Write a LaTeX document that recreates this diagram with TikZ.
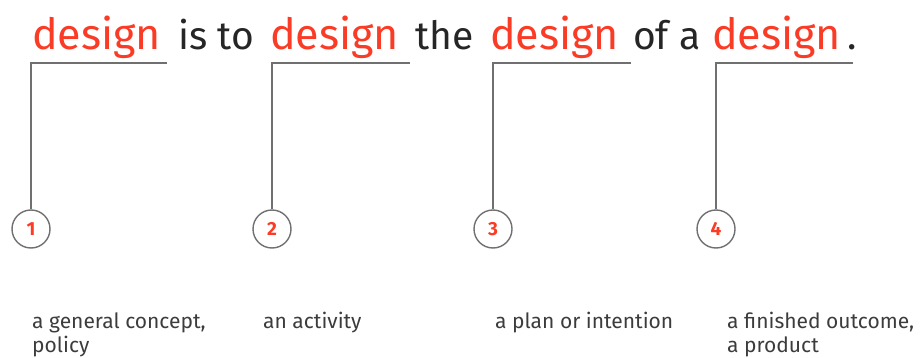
\documentclass[tikz,border=0pt]{standalone}
\usepackage{fontspec}
\setmainfont{Fira Sans}
\definecolor{dred}{RGB}{250,60,38}
\definecolor{lgray}{RGB}{112,112,112}
\definecolor{tgray}{RGB}{60,60,60}
\begin{document}
\begin{tikzpicture}[x=1pt,y=-1pt,
  word/.style={anchor=base west,inner sep=0pt},
  red word/.style={word,text=dred,font=\fontsize{43}{46}\selectfont},
  black word/.style={word,text=black!85,font=\fontsize{39}{46}\selectfont},
  num/.style={circle,draw=lgray,line width=1.4pt,minimum size=38pt,inner sep=0pt,text=dred,font=\fontsize{19}{20}\selectfont\bfseries},
  brk/.style={draw=lgray,line width=1.4pt},
  desc/.style={anchor=base west,inner sep=0pt,text=tgray,font=\fontsize{21}{24}\selectfont}]
\useasboundingbox (0,0) rectangle (921,358);
\node[red word] (d1) at (32,50) {design};
\node[black word] (w1) at (178,50) {is to};
\node[red word] (d2) at (270,50) {design};
\node[black word] (w2) at (415,50) {the};
\node[red word] (d3) at (490,50) {design};
\node[black word] (w3) at (633,50) {of a};
\node[red word] (d4) at (712,50) {design};
\node[black word] (dot) at (847,50) {.};
\node[num] (c1) at (31,229) {1};
\node[num] (c2) at (272,229) {2};
\node[num] (c3) at (493,229) {3};
\node[num] (c4) at (716,229) {4};
\coordinate (b1) at (31,63); \coordinate (e1) at (167,63);
\coordinate (b2) at (272,63); \coordinate (e2) at (410,63);
\coordinate (b3) at (493,63); \coordinate (e3) at (631,63);
\coordinate (b4) at (716,63); \coordinate (e4) at (853,63);
\draw[brk] (e1) -- (b1) -- (c1.north);
\draw[brk] (e2) -- (b2) -- (c2.north);
\draw[brk] (e3) -- (b3) -- (c3.north);
\draw[brk] (e4) -- (b4) -- (c4.north);
\node[desc] (t1a) at (32,328) {a general concept,};
\node[desc] (t1b) at (32,352) {policy};
\node[desc] (t2) at (263,328) {an activity};
\node[desc] (t3) at (495,328) {a plan or intention};
\node[desc] (t4a) at (727,328) {a finished outcome,};
\node[desc] (t4b) at (727,352) {a product};
\end{tikzpicture}
\end{document}
